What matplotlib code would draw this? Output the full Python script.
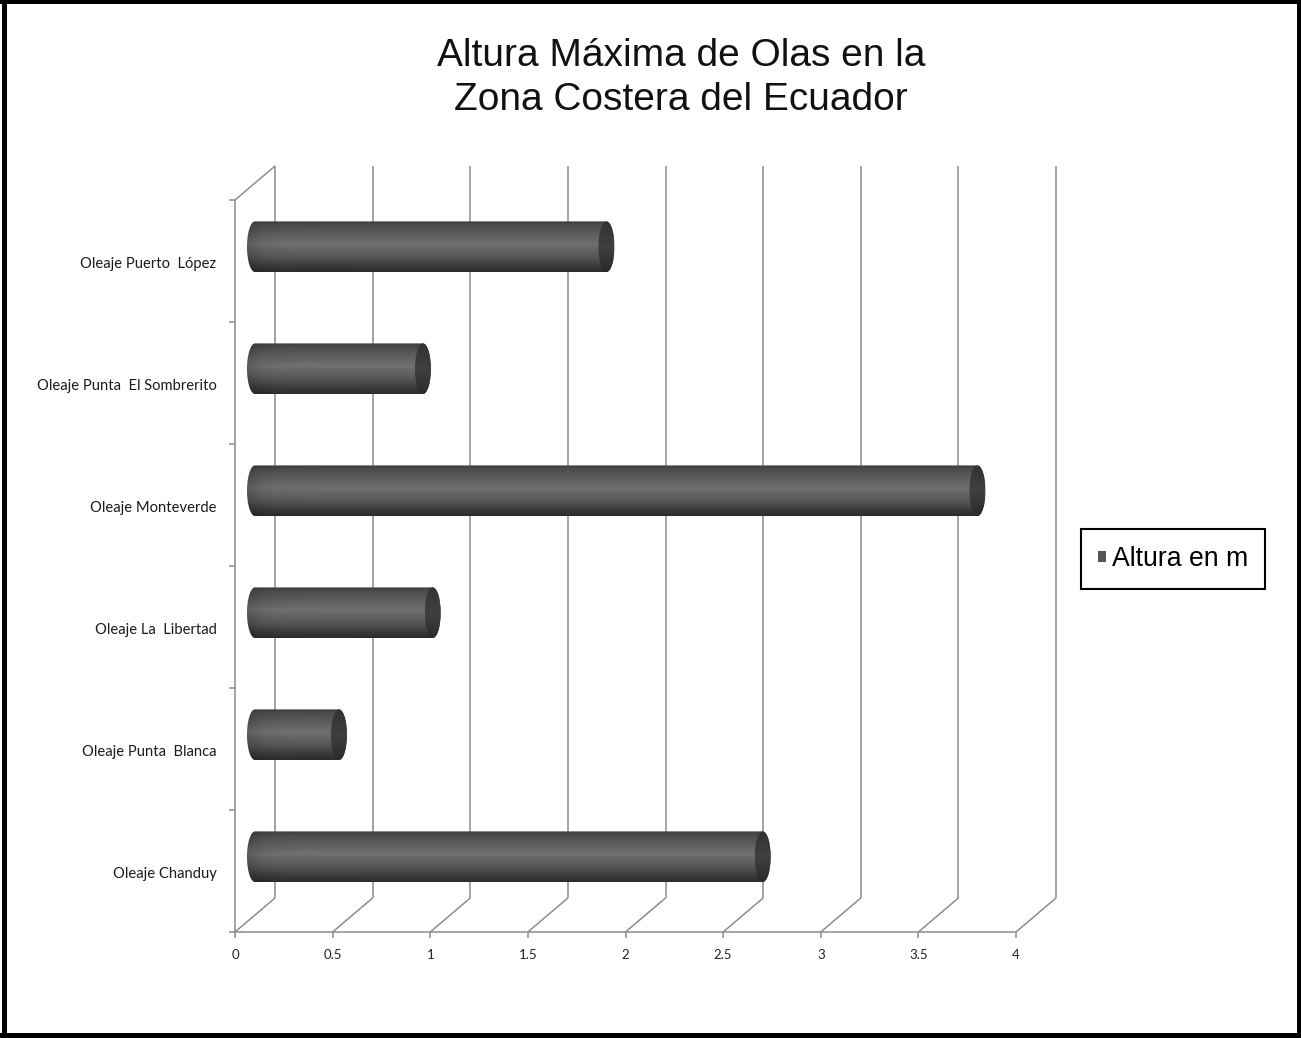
import matplotlib.pyplot as plt
import numpy as np
from matplotlib.patches import Ellipse, PathPatch, Rectangle, Patch
from matplotlib.path import Path

# datos: altura maxima de olas (m), de abajo hacia arriba
categorias = ["Oleaje Chanduy", "Oleaje Punta  Blanca", "Oleaje La  Libertad",
              "Oleaje Monteverde", "Oleaje Punta  El Sombrerito", "Oleaje Puerto  López"]
alturas = [2.6, 0.43, 0.91, 3.7, 0.86, 1.8]
ticks_x = [0, 0.5, 1, 1.5, 2, 2.5, 3, 3.5, 4]
etiquetas_x = ["0", "0.5", "1", "1.5", "2", "2.5", "3", "3.5", "4"]

W, H = 1301, 1038
fig = plt.figure(figsize=(W / 100, H / 100), dpi=100)
fig.patch.set_facecolor("white")

# front plane of the plot: x 0..4, y 0..6 categories
ax = fig.add_axes([235 / W, 106 / H, 781 / W, 732 / H])
ax.set_axis_off()

px_x = 781 / 4.0    # pixels per unit in x
px_y = 732 / 6.0    # pixels per category in y
DX = 40 / px_x      # depth offset of back wall
DY = 34 / px_y
gris = "#8c8c8c"

def linea(xs, ys, **kw):
    ax.plot(xs, ys, color=gris, lw=1.1, clip_on=False, solid_capstyle="butt", **kw)

# left wall and front axis line
linea([0, 0], [0, 6])
linea([0, DX], [6, 6 + DY])
linea([0, 4], [0, 0])
for k in range(7):
    linea([-0.032, 0], [k, k])

# back wall grid and floor diagonals
for v in ticks_x:
    linea([v + DX, v + DX], [DY, 6 + DY])
    linea([v, v + DX], [0, DY])
    linea([v, v], [0, -0.05])

for v, t in zip(ticks_x, etiquetas_x):
    ax.text(v, -0.185, t, ha="center", va="center", fontsize=9.5, family="Lato",
            color="#222222")

for i, c in enumerate(categorias):
    ax.text(-0.095, i + 0.475, c, ha="right", va="center", fontsize=10.6,
            family="Lato", color="#1a1a1a")

# cylinders
fx = 0.5
fy = 0.42
alto = 0.415
a = 8 / px_x

perfil_t = [0.0, 0.08, 0.45, 0.72, 0.9, 1.0]
perfil_v = [0.24, 0.30, 0.44, 0.33, 0.22, 0.17]

def cilindro(y0, x1):
    x0 = fx * DX
    yc = y0 + fy * DY
    b = alto / 2
    th_l = np.linspace(np.pi / 2, 3 * np.pi / 2, 40)
    th_r = np.linspace(-np.pi / 2, np.pi / 2, 40)
    xs = np.concatenate([x0 + a * np.cos(th_l), x1 + a * np.cos(th_r)])
    ys = np.concatenate([yc + b * np.sin(th_l), yc + b * np.sin(th_r)])
    verts = np.column_stack([xs, ys])
    verts = np.vstack([verts, verts[:1]])
    codes = [Path.MOVETO] + [Path.LINETO] * (len(verts) - 2) + [Path.CLOSEPOLY]
    cuerpo = PathPatch(Path(verts, codes), facecolor="none", edgecolor="none")
    ax.add_patch(cuerpo)

    ny, nx = 80, 200
    t = np.linspace(0, 1, ny)[:, None]
    vert = np.interp(t, perfil_t, perfil_v)
    xx = np.linspace(x0 - a, x1 + a, nx)[None, :]
    dist = (xx - (x0 - a)) * px_x
    hor = 1 - 0.18 * np.exp(-dist / 12)
    img = np.clip(vert * hor, 0, 1)
    im = ax.imshow(img, cmap="gray", vmin=0, vmax=1, aspect="auto",
                   extent=[x0 - a, x1 + a, yc - b, yc + b], origin="upper",
                   interpolation="bilinear", zorder=3)
    im.set_clip_path(cuerpo)

    tapa = Ellipse((x1, yc), 2 * a, alto, facecolor="none", edgecolor="none")
    ax.add_patch(tapa)
    img2 = np.interp(t, [0, 0.5, 1], [0.2, 0.25, 0.17]) * np.ones((1, 20))
    im2 = ax.imshow(img2, cmap="gray", vmin=0, vmax=1, aspect="auto",
                    extent=[x1 - a, x1 + a, yc - b, yc + b], origin="upper",
                    interpolation="bilinear", zorder=4)
    im2.set_clip_path(tapa)

for i, v in enumerate(alturas):
    cilindro(i + 0.5, v + fx * DX)

ax.set_xlim(0, 4)
ax.set_ylim(0, 6)

fig.text(681 / W, 1 - 78 / H, "Altura Máxima de Olas en la\nZona Costera del Ecuador",
         ha="center", va="center", fontsize=28, family="Liberation Sans",
         linespacing=1.27, color="#111111")

leg = fig.legend(handles=[Patch(facecolor="#555555", edgecolor="none")],
                 labels=["Altura en m"], loc="center left",
                 bbox_to_anchor=(1081 / W, 1 - 559 / H),
                 prop={"family": "Liberation Sans", "size": 19.2},
                 handlelength=0.3, handleheight=0.3, handletextpad=0.25,
                 borderpad=0.62, borderaxespad=0, fancybox=False, framealpha=1)
leg.get_frame().set_edgecolor("black")
leg.get_frame().set_linewidth(1.5)

# outer frame of the image
for (x, y, w, h) in [(2, 0, 5, H), (1297, 0, 4, H), (0, 0, W, 4), (0, 1033, W, 5)]:
    fig.add_artist(Rectangle((x / W, 1 - (y + h) / H), w / W, h / H,
                             transform=fig.transFigure, facecolor="black",
                             edgecolor="none"))

fig.savefig("out.png", dpi=100)
